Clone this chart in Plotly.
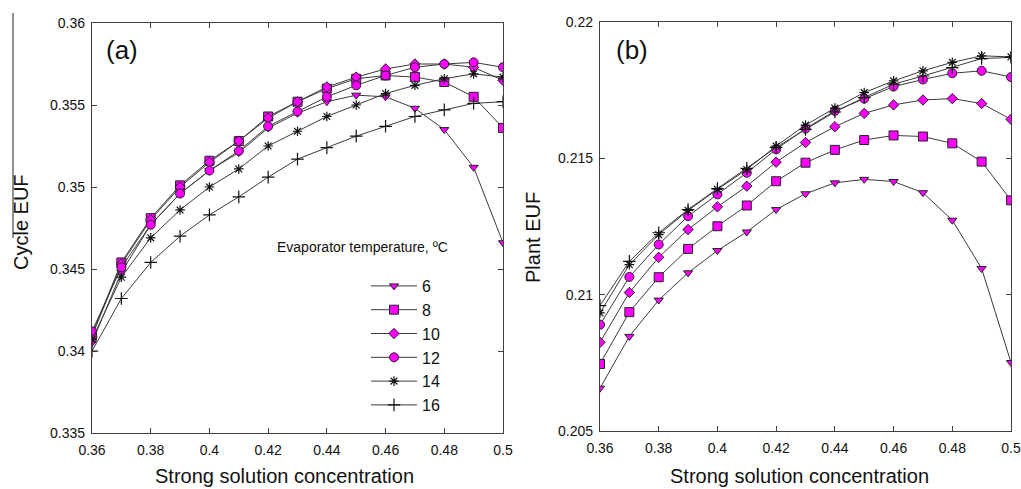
import plotly.graph_objects as go

# Strong solution concentration (x axis, both panels)
conc = [0.36, 0.37, 0.38, 0.39, 0.40, 0.41, 0.42, 0.43, 0.44, 0.45, 0.46, 0.47, 0.48, 0.49, 0.50]

# Evaporator temperatures (legend entries)
evap_temps = ["6", "8", "10", "12", "14", "16"]

# Panel (a): cycle energy utilisation factor
cycle_6 = [0.3405, 0.3448, 0.3477, 0.3496, 0.3510, 0.3521, 0.3536, 0.3545, 0.3552, 0.3556, 0.3555, 0.3548, 0.3535, 0.3512, 0.3466]
cycle_8 = [0.3410, 0.3454, 0.3481, 0.3501, 0.3516, 0.3528, 0.3543, 0.3552, 0.3560, 0.3566, 0.3568, 0.3567, 0.3564, 0.3555, 0.3536]
cycle_10 = [0.3409, 0.3453, 0.3480, 0.3500, 0.3515, 0.3528, 0.3542, 0.3552, 0.3561, 0.3567, 0.3572, 0.3575, 0.3575, 0.3573, 0.3565]
cycle_12 = [0.3412, 0.3451, 0.3477, 0.3496, 0.3510, 0.3522, 0.3537, 0.3546, 0.3555, 0.3562, 0.3568, 0.3573, 0.3575, 0.3576, 0.3573]
cycle_14 = [0.3407, 0.3445, 0.3469, 0.3486, 0.3500, 0.3511, 0.3525, 0.3534, 0.3543, 0.3550, 0.3557, 0.3562, 0.3566, 0.3569, 0.3567]
cycle_16 = [0.3400, 0.3432, 0.3454, 0.3470, 0.3483, 0.3494, 0.3506, 0.3517, 0.3524, 0.3531, 0.3537, 0.3543, 0.3547, 0.3551, 0.3552]

# Panel (b): plant energy utilisation factor
plant_6 = [0.20657, 0.20847, 0.20980, 0.21080, 0.21162, 0.21230, 0.21312, 0.21370, 0.21410, 0.21423, 0.21415, 0.21374, 0.21273, 0.21096, 0.20751]
plant_8 = [0.20746, 0.20936, 0.21064, 0.21168, 0.21251, 0.21327, 0.21416, 0.21484, 0.21531, 0.21567, 0.21584, 0.21580, 0.21555, 0.21488, 0.21346]
plant_10 = [0.20825, 0.21008, 0.21137, 0.21239, 0.21322, 0.21398, 0.21486, 0.21558, 0.21616, 0.21665, 0.21696, 0.21714, 0.21719, 0.21701, 0.21643]
plant_12 = [0.20890, 0.21065, 0.21184, 0.21288, 0.21368, 0.21447, 0.21533, 0.21609, 0.21674, 0.21719, 0.21763, 0.21789, 0.21812, 0.21821, 0.21798]
plant_14 = [0.20933, 0.21110, 0.21220, 0.21309, 0.21386, 0.21459, 0.21545, 0.21622, 0.21684, 0.21741, 0.21784, 0.21821, 0.21852, 0.21876, 0.21872]
plant_16 = [0.20960, 0.21122, 0.21227, 0.21312, 0.21389, 0.21463, 0.21540, 0.21606, 0.21670, 0.21723, 0.21772, 0.21802, 0.21833, 0.21866, 0.21870]

# Tick values / labels
x_ticks = [0.36, 0.38, 0.40, 0.42, 0.44, 0.46, 0.48, 0.50]
x_ticktext = ["0.36", "0.38", "0.4", "0.42", "0.44", "0.46", "0.48", "0.5"]
ya_ticks = [0.335, 0.34, 0.345, 0.35, 0.355, 0.36]
ya_ticktext = ["0.335", "0.34", "0.345", "0.35", "0.355", "0.36"]
yb_ticks = [0.205, 0.21, 0.215, 0.22]
yb_ticktext = ["0.205", "0.21", "0.215", "0.22"]

cycle_series = [cycle_6, cycle_8, cycle_10, cycle_12, cycle_14, cycle_16]
plant_series = [plant_6, plant_8, plant_10, plant_12, plant_14, plant_16]

FONT = "Liberation Sans, Arial, sans-serif"
LINE = "#3a3a3a"
MAGENTA = "#ff00ff"

# marker style per evaporator temperature
styles = [
    dict(symbol="triangle-down", size=8, color=MAGENTA, line=dict(color="#222", width=1)),
    dict(symbol="square", size=9, color=MAGENTA, line=dict(color="#222", width=1)),
    dict(symbol="diamond", size=8, color=MAGENTA, line=dict(color="#222", width=1)),
    dict(symbol="circle", size=9, color=MAGENTA, line=dict(color="#222", width=1)),
    dict(symbol="asterisk-open", size=8, color="#111", line=dict(color="#111", width=1.2)),
    dict(symbol="cross-thin-open", size=9, color="#111", line=dict(color="#111", width=1.2)),
]

fig = go.Figure()

for name, ys, st in zip(evap_temps, cycle_series, styles):
    fig.add_trace(go.Scatter(
        x=conc, y=ys, name=name, mode="lines+markers",
        line=dict(color=LINE, width=1), marker=st,
        xaxis="x", yaxis="y", showlegend=True, legend="legend",
    ))

for name, ys, st in zip(evap_temps, plant_series, styles):
    fig.add_trace(go.Scatter(
        x=conc, y=ys, name=name, mode="lines+markers",
        line=dict(color=LINE, width=1), marker=st,
        xaxis="x2", yaxis="y2", showlegend=False,
    ))

W, H = 1021, 489
# plot-area pixel boxes
ax_a = (92, 503, 23, 433)
ax_b = (600, 1011, 22, 431)


def px_x(p):
    return p / W


def px_y(p):
    return 1 - p / H


axis_common = dict(
    showline=True, linecolor="#404040", linewidth=1.3, mirror="ticks",
    ticks="inside", ticklen=5, tickcolor="#404040", tickwidth=1,
    showgrid=False, zeroline=False, automargin=False,
    tickfont=dict(family=FONT, size=14, color="#111"),
)
x_axis_common = dict(axis_common, ticklabelstandoff=4)
y_axis_common = dict(axis_common, ticklabelstandoff=3)

fig.update_layout(
    width=W, height=H,
    margin=dict(l=0, r=0, t=0, b=0),
    paper_bgcolor="white", plot_bgcolor="white",
    font=dict(family=FONT, color="#111"),
    xaxis=dict(domain=[px_x(ax_a[0]), px_x(ax_a[1])], range=[0.36, 0.5],
               tickvals=x_ticks, ticktext=x_ticktext, anchor="y", **x_axis_common),
    yaxis=dict(domain=[px_y(ax_a[3]), px_y(ax_a[2])], range=[0.335, 0.36],
               tickvals=ya_ticks, ticktext=ya_ticktext, anchor="x", **y_axis_common),
    xaxis2=dict(domain=[px_x(ax_b[0]), px_x(ax_b[1])], range=[0.36, 0.5],
                tickvals=x_ticks, ticktext=x_ticktext, anchor="y2", **x_axis_common),
    yaxis2=dict(domain=[px_y(ax_b[3]), px_y(ax_b[2])], range=[0.205, 0.22],
                tickvals=yb_ticks, ticktext=yb_ticktext, anchor="x2", **y_axis_common),
    legend=dict(
        x=px_x(366), y=px_y(269), xanchor="left", yanchor="top",
        bgcolor="rgba(0,0,0,0)", borderwidth=0,
        font=dict(family=FONT, size=16, color="#111"),
        tracegroupgap=0, itemwidth=46,
    ),
)

annotations = [
    dict(text="(a)", x=px_x(104), y=px_y(50), xanchor="left", yanchor="middle",
         font=dict(size=26)),
    dict(text="(b)", x=px_x(614), y=px_y(50), xanchor="left", yanchor="middle",
         font=dict(size=26)),
    dict(text="Evaporator temperature, ºC", x=px_x(275), y=px_y(247),
         xanchor="left", yanchor="middle", font=dict(size=14)),
    dict(text="Strong solution concentration", x=px_x(284), y=px_y(476),
         xanchor="center", yanchor="middle", font=dict(size=20)),
    dict(text="Strong solution concentration", x=px_x(799), y=px_y(476),
         xanchor="center", yanchor="middle", font=dict(size=20)),
    dict(text="Cycle EUF", x=px_x(21), y=px_y(222), textangle=-90,
         xanchor="center", yanchor="middle", font=dict(size=20)),
    dict(text="Plant EUF", x=px_x(533), y=px_y(238), textangle=-90,
         xanchor="center", yanchor="middle", font=dict(size=20)),
]
for a in annotations:
    a.update(xref="paper", yref="paper", showarrow=False)
    a["font"].update(family=FONT, color="#111")
fig.update_layout(annotations=annotations)

# thin vertical rule drawn beside the left axis title
fig.add_shape(type="line", xref="paper", yref="paper",
              x0=px_x(13), x1=px_x(13), y0=px_y(13), y1=px_y(238),
              line=dict(color="#222", width=1))

fig.write_html("out.html")
